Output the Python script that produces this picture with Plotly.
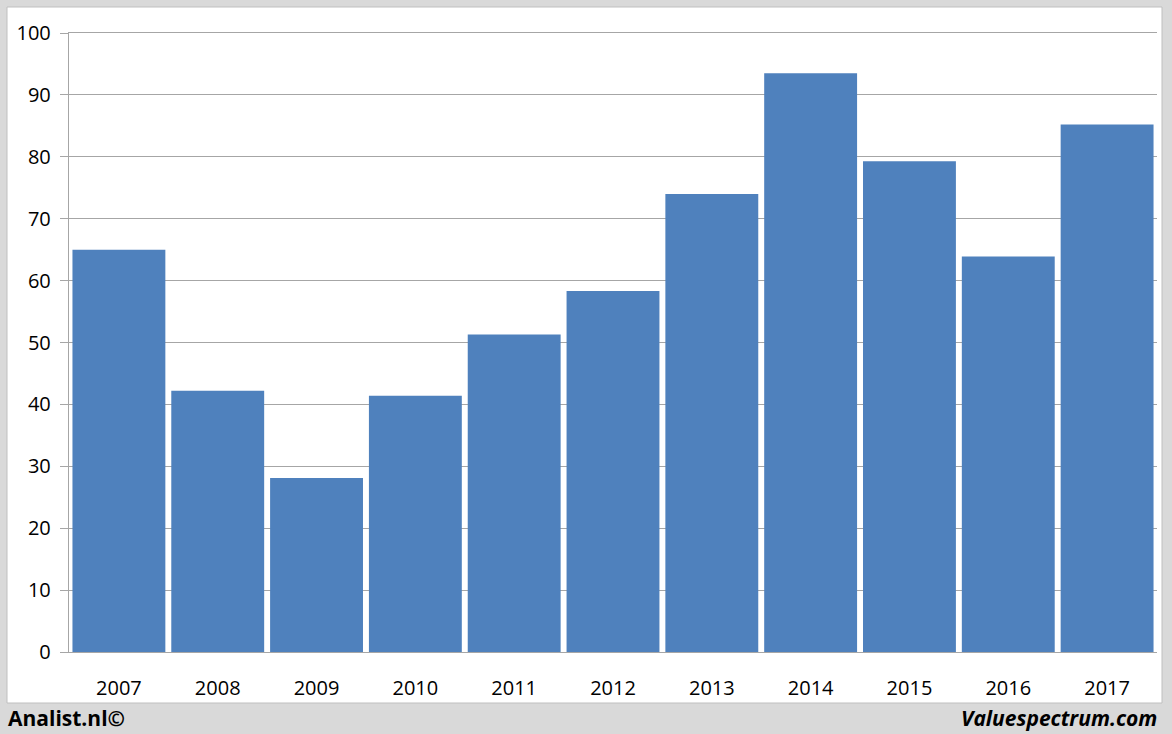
import plotly.graph_objects as go

years = ["2007", "2008", "2009", "2010", "2011", "2012", "2013", "2014", "2015", "2016", "2017"]
values = [65.0, 42.2, 28.1, 41.4, 51.3, 58.3, 74.0, 93.5, 79.3, 63.9, 85.2]

W, H = 1172, 734
L, R, T, B = 69, 15, 33, 82

fig = go.Figure(go.Bar(x=years, y=values, marker_color="#4f81bd", marker_line_width=0))

fig.update_layout(
    width=W, height=H,
    margin=dict(l=L, r=R, t=T, b=B),
    paper_bgcolor="#d9d9d9", plot_bgcolor="white",
    bargap=0.06, showlegend=False,
    font=dict(family="Open Sans", size=20, color="black"),
)
fig.update_yaxes(range=[0, 100], dtick=10, showgrid=True, gridcolor="#a6a6a6",
                 showline=True, linecolor="#a6a6a6", ticks="outside", ticklen=8,
                 tickcolor="#a6a6a6", ticksuffix=" ", zeroline=False)
fig.update_xaxes(showgrid=False, showline=True, linecolor="#a6a6a6", ticks="",
                 mirror=True, ticklabelstandoff=18)
# vertical gridlines between categories
for i in range(len(years) + 1):
    fig.add_shape(type="line", xref="x", yref="paper", x0=i - 0.5, x1=i - 0.5,
                  y0=-0.013, y1=1, line=dict(color="#a6a6a6", width=1), layer="below")
# white panel
fig.add_shape(type="rect", xref="paper", yref="paper",
              x0=-(L - 7) / (W - L - R), x1=1 + (R - 10) / (W - L - R),
              y0=-(B - 31) / (H - T - B), y1=1 + (T - 7) / (H - T - B),
              fillcolor="white", line=dict(color="#bfbfbf", width=1), layer="below")
fig.add_annotation(text="<b>Analist.nl©</b>", xref="paper", yref="paper",
                   x=-(L - 6) / (W - L - R), y=-(B - 16) / (H - T - B),
                   xanchor="left", yanchor="middle", showarrow=False,
                   font=dict(size=21, family="Open Sans"))
fig.add_annotation(text="<b><i>Valuespectrum.com</i></b>", xref="paper", yref="paper",
                   x=1 + (R - 13) / (W - L - R), y=-(B - 16) / (H - T - B),
                   xanchor="right", yanchor="middle", showarrow=False,
                   font=dict(size=21, family="Open Sans"))
fig.write_html("out.html", config={"displayModeBar": False},
               post_script="document.body.style.margin='0';")
